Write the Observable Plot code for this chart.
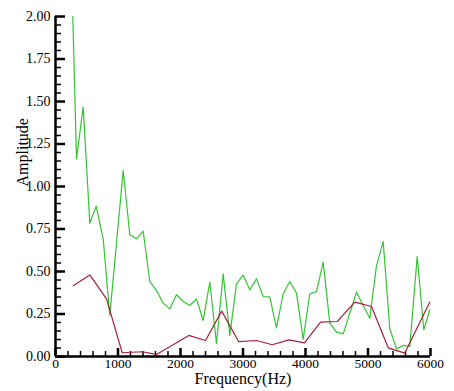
<!DOCTYPE html>
<html>
<head>
<meta charset="utf-8">
<script src="https://cdn.jsdelivr.net/npm/d3@7"></script>
<script src="https://cdn.jsdelivr.net/npm/@observablehq/plot@0.6"></script>
<style>
  html, body { margin: 0; padding: 0; background: #fff; }
  #chart { position: relative; width: 454px; height: 391px; }
  #chart svg { position: absolute; left: 0; top: 0; }
</style>
</head>
<body>
<div id="chart"></div>
<script>
// Green series (frequency Hz, amplitude)
const greenFreq = [277, 336, 443, 549, 651, 763, 869, 1083, 1189, 1296, 1403, 1509, 1616, 1723, 1829, 1936, 2043, 2149, 2256, 2363, 2469, 2576, 2683, 2789, 2896, 3003, 3109, 3216, 3323, 3429, 3536, 3643, 3749, 3856, 3963, 4069, 4176, 4283, 4389, 4496, 4603, 4816, 4923, 5029, 5136, 5243, 5349, 5456, 5563, 5669, 5787, 5893, 5989];
const greenAmp = [2.00, 1.163, 1.467, 0.784, 0.884, 0.692, 0.241, 1.094, 0.716, 0.692, 0.737, 0.441, 0.388, 0.314, 0.28, 0.363, 0.324, 0.30, 0.339, 0.212, 0.437, 0.075, 0.486, 0.124, 0.427, 0.478, 0.392, 0.457, 0.353, 0.349, 0.169, 0.369, 0.441, 0.373, 0.10, 0.369, 0.382, 0.555, 0.196, 0.143, 0.133, 0.378, 0.30, 0.225, 0.535, 0.676, 0.163, 0.045, 0.065, 0.059, 0.588, 0.157, 0.275];
// Red series
const redFreq = [283, 549, 816, 1067, 1387, 1616, 2133, 2400, 2660, 2930, 3216, 3467, 3733, 3984, 4240, 4507, 4789, 5056, 5323, 5589, 5989];
const redAmp = [0.416, 0.48, 0.339, 0.022, 0.028, 0.012, 0.124, 0.094, 0.267, 0.088, 0.094, 0.069, 0.098, 0.08, 0.202, 0.206, 0.32, 0.294, 0.051, 0.02, 0.32];

// Tick values
const xMajor = [0, 1000, 2000, 3000, 4000, 5000, 6000];
const xMinor = [200, 400, 600, 800, 1200, 1400, 1600, 1800, 2200, 2400, 2600, 2800, 3200, 3400, 3600, 3800, 4200, 4400, 4600, 4800, 5200, 5400, 5600, 5800];
const yMajor = [0, 0.25, 0.5, 0.75, 1.0, 1.25, 1.5, 1.75, 2.0];
const yMinor = [0.05, 0.1, 0.15, 0.2, 0.3, 0.35, 0.4, 0.45, 0.55, 0.6, 0.65, 0.7, 0.8, 0.85, 0.9, 0.95, 1.05, 1.1, 1.15, 1.2, 1.3, 1.35, 1.4, 1.45, 1.55, 1.6, 1.65, 1.7, 1.8, 1.85, 1.9, 1.95];

const xLabel = "Frequency(Hz)";
const yLabel = "Amplitude";

const green = greenFreq.map((f, i) => ({f, a: greenAmp[i]}));
const red = redFreq.map((f, i) => ({f, a: redAmp[i]}));

const FONT = "Liberation Serif";
const frame = {
  width: 454, height: 391,
  marginLeft: 55, marginRight: 24, marginTop: 16, marginBottom: 35,
  style: {fontFamily: FONT, background: "transparent"},
  x: {domain: [0, 6000]},
  y: {domain: [0, 2]}
};

// Layer 1: axes, ticks, labels
const axes = Plot.plot({
  ...frame,
  marks: [
    Plot.ruleY(yMajor, {x1: 0, x2: 160, stroke: "#000", strokeWidth: 2.5}),
    Plot.ruleY(yMinor, {x1: 0, x2: 96, stroke: "#000", strokeWidth: 1.5}),
    Plot.ruleX(xMajor, {y1: 0, y2: 8 / 170, stroke: "#000", strokeWidth: 2.5}),
    Plot.ruleX(xMinor, {y1: 0, y2: 5 / 170, stroke: "#000", strokeWidth: 1.5}),
    Plot.ruleX([0], {stroke: "#000", strokeWidth: 2.5}),
    Plot.ruleY([0], {stroke: "#000", strokeWidth: 2.5}),
    Plot.axisY(yMajor, {tickSize: 0, tickPadding: 5, tickFormat: d3.format(".2f"), label: null, fontSize: 14}),
    Plot.axisX(xMajor, {tickSize: 0, tickPadding: 2, tickFormat: d3.format("d"), label: null, fontSize: 13.5}),
    Plot.text([xLabel], {frameAnchor: "bottom", dy: 27, fontSize: 16, fill: "#000"}),
    Plot.text([yLabel], {frameAnchor: "left", dx: -33, rotate: -90, fontSize: 16, fill: "#000"})
  ]
});

// Layer 2: data lines (same scales and margins)
const lines = Plot.plot({
  ...frame,
  axis: null,
  marks: [
    Plot.line(green, {x: "f", y: "a", stroke: "#33c433", strokeWidth: 1.2}),
    Plot.line(red, {x: "f", y: "a", stroke: "#a8203a", strokeWidth: 1.2})
  ]
});

const host = document.getElementById("chart");
host.appendChild(axes);
host.appendChild(lines);
</script>
</body>
</html>
